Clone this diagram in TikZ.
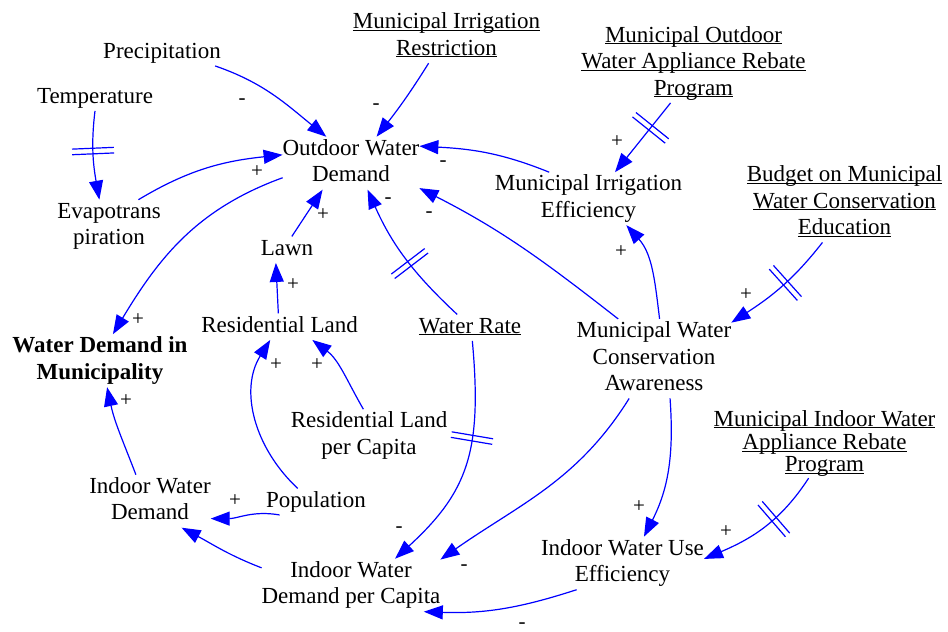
\documentclass[tikz,border=0pt]{standalone}
\usepackage{fontspec}
\setmainfont{Liberation Serif}
\usetikzlibrary{arrows.meta,decorations.markings}
\definecolor{arrowblue}{RGB}{0,0,255}
\newcommand\myul[1]{\setbox0\hbox{#1}\rlap{\rule[-2.2pt]{\wd0}{1.2pt}}\box0}
\begin{document}
\begin{tikzpicture}[x=1pt,y=-1pt,
  var/.style={font=\fontsize{23}{26.5}\selectfont, align=center, inner sep=0pt, outer sep=0pt},
  lnk/.style={draw=arrowblue, line width=1.2pt, -{Triangle[length=19pt,width=14pt]}},
  sgn/.style={font=\fontsize{21}{21}\selectfont, inner sep=0pt},
  delay/.style={postaction={decorate, decoration={markings, mark=at position #1 with {\draw[arrowblue, line width=1.2pt, arrows=-] (-2.8pt,-21pt) -- (-2.8pt,21pt) (2.8pt,-21pt) -- (2.8pt,21pt);}}}},
  delay/.default=0.5]
\useasboundingbox (0,0) rectangle (948,632);
% variables
\node[var] (prec) at (162,52.7) {\strut Precipitation};
\node[var] (temp) at (95,97.7) {\strut Temperature};
\node[var] (mir) at (446.5,36.7) {\strut\myul{Municipal Irrigation}\\\strut\myul{Restriction}};
\node[var] (mor) at (693.5,63.2) {\strut\myul{Municipal Outdoor}\\\strut\myul{Water Appliance Rebate}\\\strut\myul{Program}};
\node[var] (owd) at (351,163.2) {\strut Outdoor Water\\\strut Demand};
\node[var] (evap) at (109,226.2) {\strut Evapotrans\\\strut piration};
\node[var] (mie) at (588.5,198.7) {\strut Municipal Irrigation\\\strut Efficiency};
\node[var] (bud) at (844.5,202.7) {\strut\myul{Budget on Municipal}\\\strut\myul{Water Conservation}\\\strut\myul{Education}};
\node[var] (lawn) at (287,249.7) {\strut Lawn};
\node[var] (rl) at (279.5,326.7) {\strut Residential Land};
\node[var] (wr) at (470,327.7) {\strut\myul{Water Rate}};
\node[var, font=\fontsize{23}{26.5}\selectfont\bfseries] (wdm) at (100,360.7) {\strut Water Demand in\\\strut Municipality};
\node[var] (mwca) at (654,358.7) {\strut Municipal Water\\\strut Conservation\\\strut Awareness};
\node[var] (rlpc) at (369,435.7) {\strut Residential Land\\\strut per Capita};
\node[var, font=\fontsize{23}{22}\selectfont] (mirp) at (824.5,444.1) {\strut\myul{Municipal Indoor Water}\\\strut\myul{Appliance Rebate}\\\strut\myul{Program}};
\node[var] (iwd) at (150,501.2) {\strut Indoor Water\\\strut Demand};
\node[var] (pop) at (316,501.7) {\strut Population};
\node[var] (iwdpc) at (351,585.2) {\strut Indoor Water\\\strut Demand per Capita};
\node[var] (iwue) at (622.5,563.2) {\strut Indoor Water Use\\\strut Efficiency};
% links
\draw[lnk] (prec.-14) to[out=-19,in=141] (owd.133);
\draw[lnk] (mir.-124) to[out=-122,in=52] (owd.46);
\draw[lnk, delay=0.45] (temp.-90) to[out=-97,in=100] (evap.110);
\draw[lnk] (evap.42) to[out=31,in=186] (owd.173);
\draw[lnk] (owd.192) to[out=200,in=59] (wdm.64);
\draw[lnk] (lawn.70) -- (owd.-137);
\draw[lnk] (rl.95) -- (lawn.-130);
\draw[lnk, delay=0.45] (wr.134) to[out=137,in=-66] (owd.-58);
\draw[lnk] (mwca.132) to[out=142,in=-27] (owd.-20);
\draw[lnk] (mie.146) to[out=158,in=-3] (owd.14);
\draw[lnk, delay=0.36] (mor.-120) -- (mie.45);
\draw[lnk] (mwca.82) to[out=97,in=-48] (mie.-35);
\draw[lnk, delay=0.45] (bud.-119) to[out=-128,in=33] (mwca.25);
\draw[lnk] (rlpc.102) to[out=120,in=-37] (rl.-22);
\draw[lnk] (pop.144) to[out=137,in=-122] (rl.-125);
\draw[lnk, delay=0.4] (wr.-80) .. controls +(10,110) and +(73,-67) .. (iwdpc.31);
\draw[lnk] (pop.-160) to[out=170,in=0] (iwd.-16);
\draw[lnk] (iwdpc.169) to[out=159,in=-28] (iwd.-40);
\draw[lnk] (iwd.118) to[out=111,in=-78] (wdm.-75);
\draw[lnk] (mwca.-122) to[out=-122,in=35] (iwdpc.16);
\draw[lnk] (mwca.-68) to[out=-86,in=63] (iwue.51);
\draw[lnk, delay=0.4] (mirp.-115) to[out=-123,in=23] (iwue.3);
\draw[lnk] (iwue.-150) to[out=198,in=-2] (iwdpc.-20);
% polarity signs
\node[sgn] (s1) at (242,102) {-};
\node[sgn] (s2) at (376,107) {-};
\node[sgn] (s3) at (257,172) {+};
\node[sgn] (s4) at (443,164) {-};
\node[sgn] (s5) at (323,215) {+};
\node[sgn] (s6) at (388,201) {-};
\node[sgn] (s7) at (429,215) {-};
\node[sgn] (s8) at (293,285) {+};
\node[sgn] (s9) at (138,320) {+};
\node[sgn] (s10) at (617,142) {+};
\node[sgn] (s11) at (621,252) {+};
\node[sgn] (s12) at (746,295) {+};
\node[sgn] (s13) at (276,365) {+};
\node[sgn] (s14) at (317,365) {+};
\node[sgn] (s15) at (126,401) {+};
\node[sgn] (s16) at (235,501) {+};
\node[sgn] (s17) at (399,530) {-};
\node[sgn] (s18) at (464,568) {-};
\node[sgn] (s19) at (639,507) {+};
\node[sgn] (s20) at (726,532) {+};
\node[sgn] (s21) at (522,626) {-};
\end{tikzpicture}
\end{document}
